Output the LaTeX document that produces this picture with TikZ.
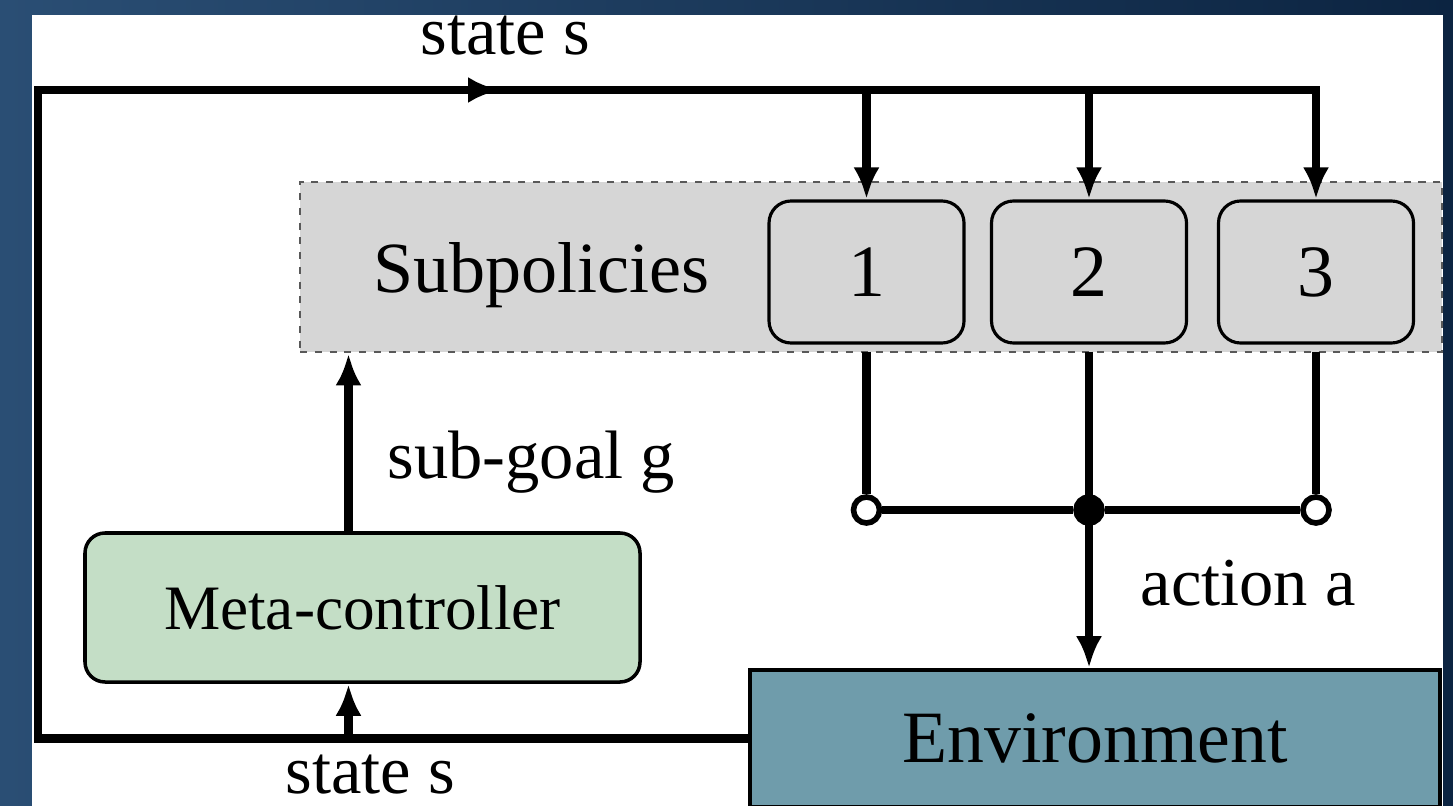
\documentclass[tikz,border=0pt]{standalone}
\usepackage{fontspec}
\setmainfont{Liberation Serif}
\usepackage{xcolor}
\usetikzlibrary{arrows.meta}
\usetikzlibrary{positioning}
\definecolor{bgleft}{HTML}{2A4E74}
\definecolor{bgright}{HTML}{0C2441}
\definecolor{metagreen}{HTML}{C4DEC6}
\definecolor{subgray}{HTML}{D6D6D6}
\definecolor{envteal}{HTML}{6F9CAB}
\tikzset{
  wire/.style = {line width=2.4pt, black},
  tip/.style = {-{Latex[length=3.2mm,width=2.6mm]}},
  lbl/.style = {inner sep=0pt, font=\fontsize{19.5}{22}\selectfont},
  pol/.style = {draw, line width=0.9pt, rounded corners=0.22cm, fill=subgray, minimum width=1.95cm, minimum height=1.42cm, font=\fontsize{21}{24}\selectfont},% une sous-politique
  meta/.style = {draw, line width=1pt, rounded corners=0.2cm, fill=metagreen, minimum width=5.55cm, minimum height=1.49cm, font=\fontsize{18}{22}\selectfont},
  env/.style = {draw, line width=1pt, fill=envteal, minimum width=6.9cm, minimum height=1.37cm, font=\fontsize{21}{24}\selectfont},
  area/.style = {draw=gray!70!black, line width=0.8pt, dash pattern=on 2pt off 2.2pt, fill=subgray, minimum width=11.42cm, minimum height=1.70cm},
  opendot/.style = {draw, circle, line width=1.6pt, fill=white, inner sep=0pt, minimum size=0.26cm},
  fulldot/.style = {opendot, fill=black}
}
\begin{document}
\begin{tikzpicture}
\useasboundingbox (0,0) rectangle (14.53,-8.06);
\shade[left color=bgleft, right color=bgright] (0,0) rectangle (14.53,-8.06);
\fill[white] (0.32,-0.15) rectangle (14.43,-8.10);
% blocs
\node [area] (subs) at (8.71,-2.67) {};
\node [lbl, anchor=base west, font=\fontsize{20.5}{24}\selectfont] (sublbl) at (3.73,-2.92) {Subpolicies};
\node [pol] (p1) at (8.665,-2.72) {1};
\node [pol] (p2) at (10.89,-2.72) {2};
\node [pol] (p3) at (13.16,-2.72) {3};
\node [meta] (mc) at (3.625,-6.075) {Meta-controller};
\node [env] (envt) at (10.95,-7.385) {Environment};
\coordinate (ltop) at (0.38,-0.90);
\coordinate (lbot) at (0.38,-7.385);
\coordinate (amid) at (5.0,-0.90);
\coordinate (jrow) at (0,-5.10);
% boucle de l'etat
\draw [wire] (envt.west) -- (lbot) -- (ltop) -- (p3.north |- ltop);
\draw [wire, tip] (ltop) -- (amid);
\draw [wire, tip] (amid) -| (p3.north);
\draw [wire, tip] (p1.north |- ltop) -- (p1.north);
\draw [wire, tip] (p2.north |- ltop) -- (p2.north);
\draw [wire, tip] ([xshift=-0.14cm]mc.south |- lbot) -- ([xshift=-0.14cm]mc.south);
\draw [wire, tip] ([xshift=-0.14cm]mc.north) -- ([xshift=-0.14cm]mc.north |- subs.south);
% choix de l'action
\node [opendot] (c1) at (p1.south |- jrow) {};
\node [fulldot] (c2) at (p2.south |- jrow) {};
\node [opendot] (c3) at (p3.south |- jrow) {};
\draw [wire, shorten <=0.07cm] (p1.south) -- (c1);
\draw [wire, shorten <=0.07cm] (p3.south) -- (c3);
\draw [wire] (c1) -- (c2) -- (c3);
\draw [wire, tip, shorten <=0.07cm] (p2.south) -- (p2.south |- envt.north);
% etiquettes
\node [lbl, anchor=base west] (stop) at (4.20,-0.55) {state s};
\node [lbl, anchor=base west] (sbot) at (2.85,-7.93) {state s};
\node [lbl, anchor=base west] (goal) at (3.87,-4.78) {sub-goal g};
\node [lbl, anchor=base west] (act) at (11.40,-6.05) {action a};
\end{tikzpicture}
\end{document}
